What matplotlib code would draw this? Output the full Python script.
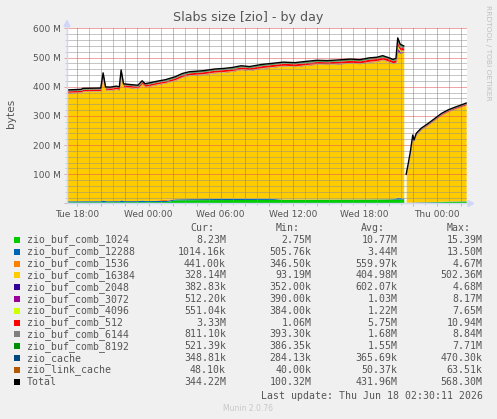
import numpy as np
import matplotlib
matplotlib.use('Agg')
import matplotlib.pyplot as plt
from matplotlib.ticker import FixedLocator, MultipleLocator, FuncFormatter
from matplotlib.patches import Rectangle, Polygon
from matplotlib.lines import Line2D

W, H = 497, 419

# sample times, hours since Tue 00:00 (gap in the data between 45.25 and 45.45)
hours = [17.19, 18.4, 18.5, 20.0, 20.2, 20.4, 20.8, 21.3, 21.55, 21.7,
         21.9, 22.5, 23.1, 23.45, 23.7, 24.1, 24.7, 25.4, 26.2, 26.8,
         27.4, 28.5, 29.5, 30.3, 31.0, 31.7, 32.4, 33.4, 34.3, 35.2,
         36.2, 37.0, 38.0, 38.9, 39.8, 40.8, 41.6, 42.4, 43.0, 43.5,
         44.1, 44.35, 44.6, 44.75, 44.95, 45.25, 45.45, 45.6, 45.8, 46.0,
         46.1, 46.3, 46.7, 47.3, 47.85, 48.4, 48.95, 49.5, 50.05, 50.45]

# values in MB
comb_1024 = [5.8, 5.9, 6.0, 6.0, 6.1, 6.0, 6.1, 6.2, 6.1, 6.2,
             6.2, 6.3, 6.3, 6.4, 6.3, 6.4, 6.5, 6.5, 12.5, 12.8,
             13.0, 13.2, 13.4, 13.5, 13.6, 13.8, 13.9, 14.0, 14.1, 14.2,
             14.3, 14.4, 14.5, 14.6, 14.7, 14.8, 14.9, 15.0, 15.1, 15.2,
             15.3, 15.3, 15.4, 15.4, 15.3, 15.2, 2.8, 3.0, 3.3, 3.6,
             3.9, 4.2, 4.6, 5.2, 5.8, 6.4, 7.0, 7.5, 7.9, 8.23]
comb_12288 = [3.4, 3.5, 3.5, 3.5, 6.0, 3.6, 3.5, 3.6, 3.5, 6.5,
              3.6, 3.6, 3.6, 5.5, 3.7, 3.7, 3.8, 3.8, 3.4, 3.5,
              3.6, 3.6, 3.7, 3.7, 3.8, 3.9, 3.8, 3.6, 3.2, 0.7,
              0.6, 0.6, 0.6, 0.6, 0.6, 0.6, 0.6, 0.6, 0.7, 0.8,
              1.0, 1.5, 4.0, 6.5, 5.0, 3.0, 0.6, 0.7, 0.8, 0.9,
              1.0, 1.1, 1.2, 1.0, 0.9, 0.9, 1.0, 1.0, 1.0, 1.01]
comb_1536 = [0.35, 0.35, 0.35, 0.36, 0.36, 0.36, 0.36, 0.37, 0.37, 0.37,
             0.37, 0.38, 0.38, 0.38, 0.38, 0.40, 2.0, 4.6, 0.5, 0.45,
             0.45, 0.45, 0.46, 0.45, 0.44, 0.45, 0.46, 0.45, 0.45, 0.44,
             0.45, 0.44, 0.45, 0.46, 0.45, 0.45, 0.44, 0.45, 0.45, 0.46,
             0.45, 0.45, 0.45, 0.45, 0.45, 0.45, 0.42, 0.42, 0.42, 0.42,
             0.42, 0.42, 0.42, 0.43, 0.43, 0.43, 0.44, 0.44, 0.44, 0.441]
comb_16384 = [369.3, 371.3, 374.3, 375.3, 420.4, 379.3, 378.3, 381.3, 379.3, 428.2,
              389.3, 386.3, 384.3, 397.3, 389.3, 392.3, 395.7, 398.1, 405.9, 416.5,
              422.2, 425.0, 430.7, 432.6, 435.4, 441.1, 438.1, 445.2, 449.6, 456.0,
              454.0, 457.9, 461.8, 460.7, 462.6, 465.5, 463.4, 469.3, 471.1, 475.9,
              467.6, 462.1, 462.5, 497.0, 495.0, 500.0, 92.3, 123.6, 169.1, 225.6,
              208.0, 230.5, 246.8, 263.2, 279.5, 295.6, 306.7, 315.0, 322.4, 328.14]
comb_2048 = [0.5, 0.5, 0.5, 0.5, 2.5, 0.5, 0.5, 0.5, 0.5, 1.5,
             0.5, 0.5, 0.5, 0.6, 0.5, 0.5, 0.5, 0.5, 0.5, 0.5,
             0.5, 0.5, 0.6, 0.5, 0.5, 0.5, 0.6, 0.5, 0.5, 0.5,
             0.6, 0.5, 0.5, 0.5, 0.6, 0.5, 0.5, 0.6, 0.5, 0.5,
             0.5, 0.5, 0.6, 4.7, 2.0, 1.0, 0.36, 0.37, 0.37, 0.38,
             0.38, 0.38, 0.38, 0.38, 0.38, 0.38, 0.38, 0.38, 0.38, 0.383]
comb_3072 = [0.9, 0.9, 0.9, 0.9, 0.9, 0.9, 0.9, 0.9, 0.9, 4.0,
             0.9, 0.9, 1.0, 0.9, 0.9, 0.9, 1.0, 0.9, 0.9, 0.9,
             0.9, 1.0, 0.9, 0.9, 0.9, 1.0, 0.9, 0.9, 0.9, 1.0,
             0.9, 0.9, 0.9, 1.0, 0.9, 0.9, 0.9, 1.0, 0.9, 0.9,
             0.9, 0.9, 1.0, 8.2, 4.0, 3.0, 0.45, 0.47, 0.48, 0.5,
             0.5, 0.5, 0.5, 0.5, 0.5, 0.5, 0.5, 0.5, 0.51, 0.512]
comb_4096 = [1.0, 1.0, 1.1, 1.0, 1.0, 1.0, 1.1, 1.0, 1.0, 1.0,
             1.1, 1.0, 1.0, 1.0, 1.1, 1.0, 1.0, 1.1, 1.2, 1.2,
             1.2, 1.3, 1.2, 1.2, 1.3, 1.2, 1.2, 1.3, 1.2, 1.2,
             1.3, 1.2, 1.2, 1.3, 1.2, 1.2, 1.3, 1.2, 1.2, 1.3,
             1.2, 1.3, 1.5, 7.6, 5.0, 3.0, 0.52, 0.53, 0.54, 0.55,
             0.55, 0.55, 0.55, 0.55, 0.55, 0.55, 0.55, 0.55, 0.55, 0.551]
comb_512 = [4.9, 5.0, 5.0, 5.1, 6.0, 5.0, 5.1, 5.2, 5.1, 7.0,
            5.2, 5.3, 5.2, 5.4, 5.3, 5.4, 5.5, 5.6, 6.0, 6.1,
            6.2, 6.3, 6.2, 6.4, 6.5, 6.4, 6.6, 6.5, 6.7, 6.6,
            6.8, 6.7, 6.9, 6.8, 7.0, 6.9, 7.1, 7.0, 7.2, 7.3,
            7.2, 7.4, 7.5, 10.9, 9.0, 8.0, 1.06, 1.1, 1.2, 1.3,
            1.5, 1.6, 1.8, 2.0, 2.2, 2.5, 2.7, 2.9, 3.1, 3.33]
comb_6144 = [1.5, 1.5, 1.5, 1.5, 3.0, 1.5, 1.5, 1.6, 1.5, 1.5,
             1.5, 1.6, 1.5, 1.5, 1.6, 1.5, 1.5, 1.6, 1.6, 1.7,
             1.7, 1.6, 1.7, 1.7, 1.8, 1.7, 1.7, 1.8, 1.7, 1.7,
             1.8, 1.7, 1.8, 1.7, 1.8, 1.8, 1.7, 1.8, 1.8, 1.9,
             1.8, 1.9, 2.0, 8.8, 5.0, 3.0, 0.78, 0.78, 0.79, 0.79,
             0.8, 0.8, 0.8, 0.8, 0.8, 0.8, 0.81, 0.81, 0.81, 0.811]
comb_8192 = [1.3, 1.3, 1.3, 1.3, 1.3, 1.3, 1.3, 1.4, 1.3, 1.3,
             1.3, 1.4, 1.3, 1.4, 1.3, 1.4, 1.4, 1.5, 1.6, 1.7,
             1.7, 1.8, 1.8, 1.8, 1.9, 1.8, 1.8, 1.9, 1.8, 1.9,
             1.8, 1.9, 1.9, 1.8, 1.9, 2.0, 1.9, 2.0, 2.0, 2.1,
             2.0, 2.1, 2.2, 7.7, 5.0, 3.0, 0.48, 0.49, 0.5, 0.5,
             0.5, 0.5, 0.5, 0.51, 0.51, 0.52, 0.52, 0.52, 0.52, 0.521]
zio_cache = [0.30, 0.30, 0.31, 0.31, 0.31, 0.31, 0.32, 0.32, 0.32, 0.32,
             0.32, 0.33, 0.33, 0.33, 0.33, 0.34, 0.34, 0.34, 0.36, 0.36,
             0.37, 0.37, 0.37, 0.38, 0.38, 0.38, 0.39, 0.39, 0.39, 0.40,
             0.40, 0.40, 0.41, 0.41, 0.41, 0.42, 0.42, 0.42, 0.43, 0.43,
             0.44, 0.44, 0.45, 0.47, 0.46, 0.45, 0.29, 0.30, 0.31, 0.32,
             0.33, 0.33, 0.34, 0.34, 0.34, 0.35, 0.35, 0.35, 0.35, 0.349]
zio_link_cache = [0.045, 0.045, 0.046, 0.046, 0.047, 0.047, 0.048, 0.048, 0.048, 0.049,
                  0.049, 0.049, 0.050, 0.050, 0.050, 0.051, 0.051, 0.051, 0.052, 0.052,
                  0.052, 0.053, 0.053, 0.053, 0.054, 0.054, 0.054, 0.055, 0.055, 0.055,
                  0.056, 0.056, 0.056, 0.057, 0.057, 0.057, 0.058, 0.058, 0.058, 0.059,
                  0.059, 0.060, 0.061, 0.0635, 0.062, 0.061, 0.040, 0.041, 0.042, 0.043,
                  0.044, 0.044, 0.045, 0.045, 0.046, 0.046, 0.047, 0.047, 0.048, 0.048]

x_tick_hours = [18, 24, 30, 36, 42, 48]
x_tick_labels = ['Tue 18:00', 'Wed 00:00', 'Wed 06:00', 'Wed 12:00', 'Wed 18:00', 'Thu 00:00']

names = ['zio_buf_comb_1024', 'zio_buf_comb_12288', 'zio_buf_comb_1536', 'zio_buf_comb_16384',
         'zio_buf_comb_2048', 'zio_buf_comb_3072', 'zio_buf_comb_4096', 'zio_buf_comb_512',
         'zio_buf_comb_6144', 'zio_buf_comb_8192', 'zio_cache', 'zio_link_cache', 'Total']
colors = ['#00CC00', '#0066B3', '#FF8000', '#FFCC00', '#330099', '#990099', '#CCFF00',
          '#FF0000', '#808080', '#008F00', '#00487D', '#B35A00', '#000000']
cur = ['8.23M', '1014.16k', '441.00k', '328.14M', '382.83k', '512.20k', '551.04k', '3.33M',
       '811.10k', '521.39k', '348.81k', '48.10k', '344.22M']
mins = ['2.75M', '505.76k', '346.50k', '93.19M', '352.00k', '390.00k', '384.00k', '1.06M',
        '393.30k', '386.35k', '284.13k', '40.00k', '100.32M']
avgs = ['10.77M', '3.44M', '559.97k', '404.98M', '602.07k', '1.03M', '1.22M', '5.75M',
        '1.68M', '1.55M', '365.69k', '50.37k', '431.96M']
maxs = ['15.39M', '13.50M', '4.67M', '502.36M', '4.68M', '8.17M', '7.65M', '10.94M',
        '8.84M', '7.71M', '470.30k', '63.51k', '568.30M']

series = [comb_1024, comb_12288, comb_1536, comb_16384, comb_2048, comb_3072, comb_4096,
          comb_512, comb_6144, comb_8192, zio_cache, zio_link_cache]

FONT = '#555555'
GRID = (0.56, 0.56, 0.56, 0.4)
MGRID = (0.87, 0.31, 0.31, 0.45)
AXIS = '#CFD6F8'


def fx(x):
    return x / W


def fy(y):
    return 1 - y / H


fig = plt.figure(figsize=(W / 100, H / 100), dpi=100, facecolor='#F0F0F0')
ax = fig.add_axes([fx(67), fy(203.5), 400 / W, 175 / H])
ax.set_facecolor('white')

t = np.array(hours)
segs = [t < 45.3, t > 45.4]
base = np.zeros(len(t))
for vals, col in zip(series, colors[:-1]):
    v = np.array(vals)
    for m in segs:
        ax.fill_between(t[m], base[m], base[m] + v[m], color=col, lw=0, zorder=1)
    base = base + v
for m in segs:
    ax.plot(t[m], base[m], color='black', lw=1.0, zorder=3)

ax.set_xlim(17.19, 50.52)
ax.set_ylim(0, 600)

ax.xaxis.set_major_locator(MultipleLocator(2))
ax.xaxis.set_minor_locator(MultipleLocator(1))
lab = dict(zip(x_tick_hours, x_tick_labels))
ax.xaxis.set_major_formatter(FuncFormatter(lambda v, p: lab.get(int(round(v)), '') if abs(v - round(v)) < 1e-6 else ''))
ax.yaxis.set_major_locator(FixedLocator([0, 100, 200, 300, 400, 500, 600]))
ax.yaxis.set_minor_locator(MultipleLocator(20))
ax.yaxis.set_major_formatter(FuncFormatter(lambda v, p: '' if v == 0 else '%d M' % v))

ax.set_axisbelow(False)
ax.grid(True, which='minor', color=GRID, lw=0.72, linestyle=(0, (1, 1)), zorder=2)
ax.grid(True, which='major', color=MGRID, lw=0.72, linestyle=(0, (1, 1)), zorder=2)

ax.tick_params(which='major', direction='out', length=2.2, width=0.72, color=MGRID,
               labelsize=6.5, labelcolor=FONT, pad=2.5)
ax.tick_params(which='minor', direction='out', length=1.5, width=0.72, color=GRID)

for s in ax.spines.values():
    s.set_visible(False)

# axes with arrows
fig.add_artist(Line2D([fx(67), fx(469)], [fy(203.5), fy(203.5)], color=AXIS, lw=1))
fig.add_artist(Line2D([fx(67), fx(67)], [fy(203.5), fy(25)], color=AXIS, lw=1))
fig.add_artist(Polygon([[fx(468), fy(200.5)], [fx(473.5), fy(203.5)], [fx(468), fy(206.5)]],
                       closed=True, color=AXIS, transform=fig.transFigure))
fig.add_artist(Polygon([[fx(64), fy(26.5)], [fx(67), fy(20.5)], [fx(70), fy(26.5)]],
                       closed=True, color=AXIS, transform=fig.transFigure))

fig.text(fx(248), fy(18), 'Slabs size [zio] - by day', ha='center', va='center',
         fontsize=9.1, color=FONT)
fig.text(fx(11), fy(113), 'bytes', rotation=90, ha='center', va='center',
         fontsize=7.6, color=FONT)
fig.text(fx(488), fy(53), 'RRDTOOL / TOBI OETIKER', rotation=270, ha='center', va='center',
         fontsize=5.4, color='#C0C0C0')
fig.text(fx(248), fy(408), 'Munin 2.0.76', ha='center', va='center',
         fontsize=5.5, color='#C8C8C8')

# legend table
mono = dict(family='DejaVu Sans Mono', fontsize=7.1, color=FONT, va='center')
col_right = [226, 311.7, 397.3, 482.7]
for xr, head in zip(col_right, ['Cur:', 'Min:', 'Avg:', 'Max:']):
    fig.text(fx(xr - 12), fy(227.7), head, ha='right', **mono)
for i, name in enumerate(names):
    y = 240 + i * 11.81
    fig.add_artist(Rectangle((fx(14), fy(y + 3)), 6 / W, 6 / H, color=colors[i],
                             transform=fig.transFigure, lw=0))
    fig.text(fx(26.5), fy(y), name, ha='left', **mono)
    for xr, vals in zip(col_right, [cur, mins, avgs, maxs]):
        fig.text(fx(xr), fy(y), vals[i], ha='right', **mono)
fig.text(fx(482.7), fy(395.7), 'Last update: Thu Jun 18 02:30:11 2026', ha='right', **mono)

fig.savefig('out.png', dpi=100, facecolor=fig.get_facecolor())
